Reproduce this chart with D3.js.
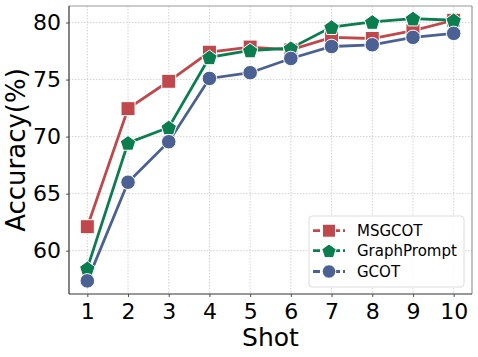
<!DOCTYPE html>
<html><head><meta charset="utf-8">
<script src="https://cdn.jsdelivr.net/npm/d3@7"></script>
<style>body{margin:0;background:#fff}svg{display:block;font-family:"DejaVu Sans",sans-serif}</style>
</head><body><svg id="c" width="478" height="357"></svg>
<script>
const shots = [1,2,3,4,5,6,7,8,9,10];
const yTicks = [60,65,70,75,80];
const seriesNames = ["MSGCOT","GraphPrompt","GCOT"];
const msgcot = [62.1,72.45,74.85,77.4,77.85,77.6,78.7,78.6,79.3,80.2];
const graphprompt = [58.45,69.45,70.8,76.95,77.55,77.75,79.6,80.05,80.35,80.2];
const gcot = [57.35,66.0,69.55,75.1,75.6,76.85,77.9,78.05,78.7,79.05];
const colors = ["#c0474b","#0b7d4f","#4b6193"];
const shapes = ["square","pentagon","circle"];

const svg = d3.select("#c");
const L=69,R=472,T=6,B=294;
const x = d3.scaleLinear().domain([0.55,10.45]).range([L,R]);
const y = d3.scaleLinear().domain([56.2,81.45]).range([B,T]);

// grid
const g = svg.append("g");
g.selectAll(".vg").data(shots).join("line").attr("x1",d=>x(d)).attr("x2",d=>x(d)).attr("y1",T).attr("y2",B)
 .attr("stroke","#c8c8c8").attr("stroke-width",0.8).attr("stroke-dasharray","1.5,1.5");
g.selectAll(".hg").data(yTicks).join("line").attr("x1",L).attr("x2",R).attr("y1",d=>y(d)).attr("y2",d=>y(d))
 .attr("stroke","#c8c8c8").attr("stroke-width",0.8).attr("stroke-dasharray","1.5,1.5");

// axes
const xa = svg.append("g").attr("transform",`translate(0,${B})`).call(d3.axisBottom(x).tickValues(shots).tickSize(3).tickPadding(6));
const ya = svg.append("g").attr("transform",`translate(${L},0)`).call(d3.axisLeft(y).tickValues(yTicks).tickSize(3).tickPadding(5));
[xa,ya].forEach(a=>{a.select(".domain").remove();a.selectAll("text").attr("font-size",22).attr("fill","#000").attr("font-family","DejaVu Sans");a.selectAll("line").attr("stroke","#555");});
xa.selectAll("text").attr("dy","0.72em");

// spines
svg.append("line").attr("x1",L).attr("x2",R).attr("y1",T).attr("y2",T).attr("stroke","#999").attr("stroke-width",1.2);
svg.append("line").attr("x1",R).attr("x2",R).attr("y1",T).attr("y2",B).attr("stroke","#999").attr("stroke-width",1.2);
svg.append("line").attr("x1",L).attr("x2",L).attr("y1",T).attr("y2",B).attr("stroke","#333").attr("stroke-width",1.2);
svg.append("line").attr("x1",L).attr("x2",R).attr("y1",B).attr("y2",B).attr("stroke","#333").attr("stroke-width",1.2);

svg.append("text").attr("x",(L+R)/2).attr("y",346).attr("text-anchor","middle").attr("font-size",25).text("Shot");
svg.append("text").attr("transform",`translate(25,${(T+B)/2}) rotate(-90)`).attr("text-anchor","middle").attr("font-size",26).text("Accuracy(%)");

function marker(sel,shape,color,s){
  if(shape==="square") sel.append("rect").attr("x",-s*0.5).attr("y",-s*0.5).attr("width",s).attr("height",s);
  else if(shape==="circle") sel.append("circle").attr("r",s*0.52);
  else {
    const r=s*0.58; const pts=d3.range(5).map(i=>{const a=-Math.PI/2+i*2*Math.PI/5;return [r*Math.cos(a),r*Math.sin(a)+0.8];});
    sel.append("path").attr("d","M"+pts.join("L")+"Z");
  }
  sel.selectAll("rect,circle,path").attr("fill",color).attr("stroke","#fff").attr("stroke-width",1);
}

const data=[msgcot,graphprompt,gcot];
const line=d3.line().x((d,i)=>x(shots[i])).y(d=>y(d));
data.forEach((vals,k)=>{
  svg.append("path").attr("d",line(vals)).attr("fill","none").attr("stroke",colors[k]).attr("stroke-width",2.8);
});
data.forEach((vals,k)=>{
  vals.forEach((v,i)=>{
    const m=svg.append("g").attr("transform",`translate(${x(shots[i])},${y(v)})`);
    marker(m,shapes[k],colors[k],14);
  });
});

// legend
const lg=svg.append("g");
lg.append("rect").attr("x",309).attr("y",216).attr("width",155).attr("height",71).attr("rx",3)
  .attr("fill","#fff").attr("fill-opacity",0.85).attr("stroke","#ddd").attr("stroke-width",1);
const rows=[230.7,250.7,271.5];
seriesNames.forEach((n,k)=>{
  lg.append("line").attr("x1",313).attr("x2",345).attr("y1",rows[k]).attr("y2",rows[k])
   .attr("stroke",colors[k]).attr("stroke-width",2.8).attr("stroke-dasharray","7,3");
  const m=lg.append("g").attr("transform",`translate(329,${rows[k]})`);
  marker(m,shapes[k],colors[k],13);
  lg.append("text").attr("x",357).attr("y",rows[k]+5.5).attr("font-size",15).text(n);
});
</script></body></html>
